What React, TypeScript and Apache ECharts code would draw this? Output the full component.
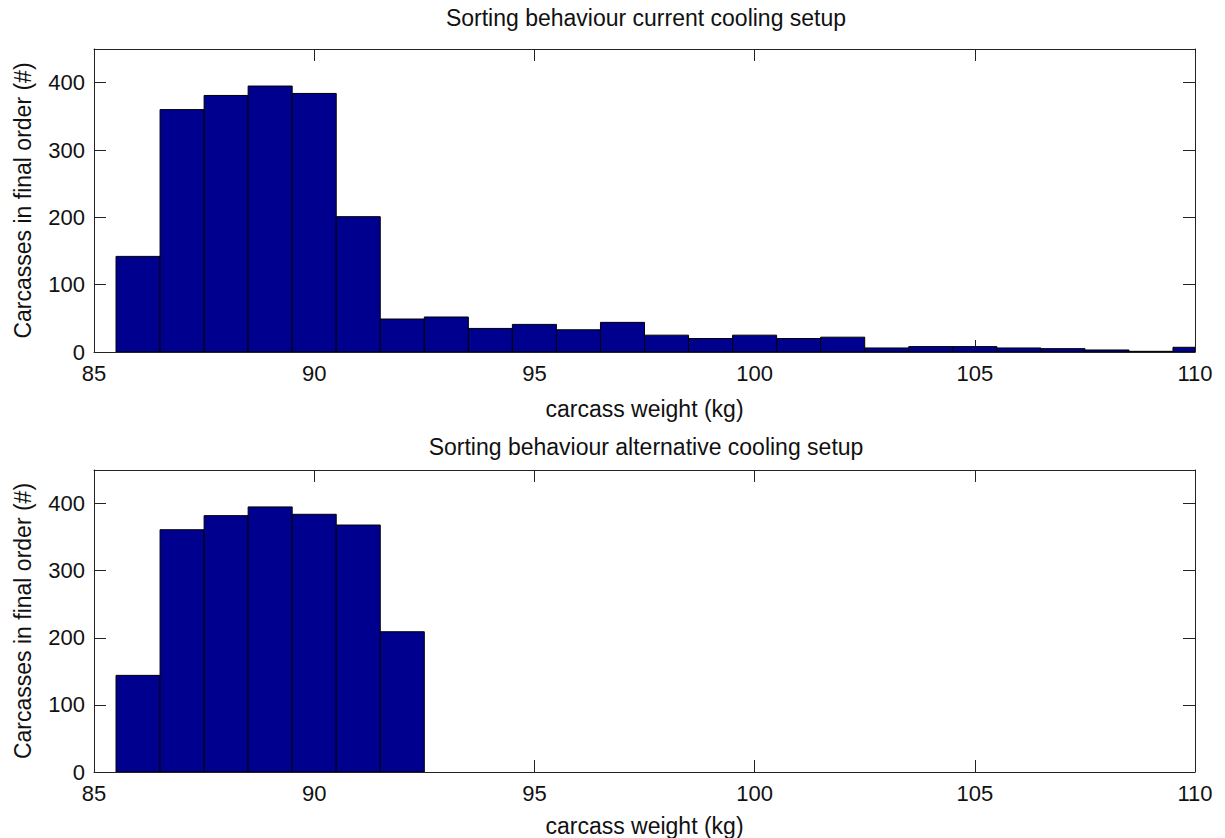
import React, { useEffect, useRef } from "react";
import * as echarts from "echarts";

const binCenters = [86, 87, 88, 89, 90, 91, 92, 93, 94, 95, 96, 97, 98, 99, 100, 101, 102, 103, 104, 105, 106, 107, 108, 109, 110];
const currentCounts = [142, 360, 381, 395, 384, 201, 49, 52, 35, 41, 33, 44, 25, 20, 25, 20, 22, 6, 8, 8, 6, 5, 3, 1, 7];
const alternativeCounts = [144, 361, 382, 395, 384, 368, 209, 0, 0, 0, 0, 0, 0, 0, 0, 0, 0, 0, 0, 0, 0, 0, 0, 0, 0];
const xTicks = { min: 85, max: 110, interval: 5 };
const yTicks = { min: 0, max: 450, interval: 100 };
const titles = ["Sorting behaviour current cooling setup", "Sorting behaviour alternative cooling setup"];
const xName = "carcass weight (kg)";
const yName = "Carcasses in final order (#)";

const FONT = "'Liberation Sans', Arial, Helvetica, sans-serif";
const TEXT = "#111";
const AXIS = "#222";

const renderBars = (params: any, api: any) => {
  const c = api.value(0);
  const v = api.value(1);
  if (!(v > 0)) return null;
  const p0 = api.coord([c - 0.5, v]);
  const p1 = api.coord([c + 0.5, 0]);
  const cs = params.coordSys;
  const rect = echarts.graphic.clipRectByRect(
    { x: p0[0], y: p0[1], width: p1[0] - p0[0], height: p1[1] - p0[1] },
    { x: cs.x, y: cs.y, width: cs.width, height: cs.height }
  );
  if (!rect) return null;
  return {
    type: "rect",
    shape: rect,
    style: { fill: "#00008F", stroke: "#000", lineWidth: 1 },
  };
};

export default function App() {
  const ref = useRef<HTMLDivElement>(null);
  useEffect(() => {
    if (!ref.current) return;
    const chart = echarts.init(ref.current, null, { renderer: "svg" });
    const lineStyle = { color: AXIS, width: 1 };
    const tick = { show: true, inside: true, length: 12, lineStyle };
    const mkX = (g: number, top: boolean) => ({
      type: "value",
      gridIndex: g,
      position: top ? "top" : "bottom",
      min: xTicks.min,
      max: xTicks.max,
      interval: xTicks.interval,
      axisLine: { show: true, onZero: false, lineStyle },
      axisTick: tick,
      splitLine: { show: false },
      axisLabel: top
        ? { show: false }
        : { show: true, margin: 10, color: TEXT, fontFamily: FONT, fontSize: 22 },
      name: top ? "" : xName,
      nameLocation: "middle",
      nameGap: g === 0 ? 45 : 42,
      nameTextStyle: { color: TEXT, fontFamily: FONT, fontSize: 23 },
    });
    const mkY = (g: number, right: boolean) => ({
      type: "value",
      gridIndex: g,
      position: right ? "right" : "left",
      min: yTicks.min,
      max: yTicks.max,
      interval: yTicks.interval,
      axisLine: { show: true, onZero: false, lineStyle },
      axisTick: tick,
      splitLine: { show: false },
      axisLabel: right
        ? { show: false }
        : {
            show: true,
            margin: 9,
            color: TEXT,
            fontFamily: FONT,
            fontSize: 22,
            showMaxLabel: false,
          },
      name: right ? "" : yName,
      nameLocation: "middle",
      nameGap: 60,
      nameTextStyle: { color: TEXT, fontFamily: FONT, fontSize: 23 },
    });
    chart.setOption({
      animation: false,
      backgroundColor: "#fff",
      title: [
        {
          text: titles[0],
          left: 641,
          top: 1,
          textAlign: "center",
          textStyle: { color: TEXT, fontFamily: FONT, fontSize: 23, fontWeight: "normal" },
        },
        {
          text: titles[1],
          left: 641,
          top: 430,
          textAlign: "center",
          textStyle: { color: TEXT, fontFamily: FONT, fontSize: 23, fontWeight: "normal" },
        },
      ],
      grid: [
        { left: 94, top: 49, width: 1101, height: 303, containLabel: false },
        { left: 94, top: 470, width: 1101, height: 304, containLabel: false },
      ],
      xAxis: [mkX(0, false), mkX(0, true), mkX(1, false), mkX(1, true)],
      yAxis: [mkY(0, false), mkY(0, true), mkY(1, false), mkY(1, true)],
      series: [
        {
          type: "custom",
          xAxisIndex: 0,
          yAxisIndex: 0,
          renderItem: renderBars,
          data: binCenters.map((c, i) => [c, currentCounts[i]]),
          clip: true,
        },
        {
          type: "custom",
          xAxisIndex: 2,
          yAxisIndex: 2,
          renderItem: renderBars,
          data: binCenters.map((c, i) => [c, alternativeCounts[i]]),
          clip: true,
        },
      ],
    });
    return () => chart.dispose();
  }, []);
  return (
    <div
      ref={ref}
      style={{ position: "fixed", left: 0, top: 0, width: 1225, height: 838, background: "#fff" }}
    />
  );
}
